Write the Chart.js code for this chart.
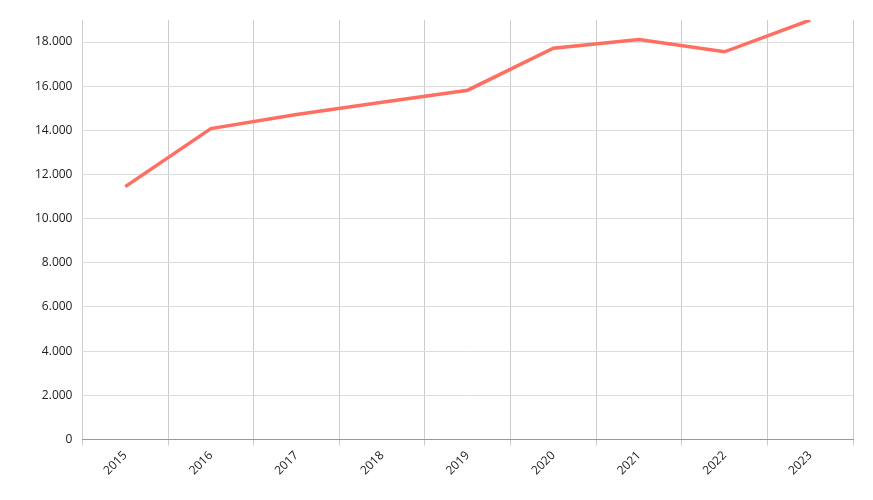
<!DOCTYPE html>
<html><head><meta charset="utf-8">
<script src="https://cdn.jsdelivr.net/npm/chart.js@4"></script>
<style>html,body{margin:0;padding:0;background:#fff}#w{width:873px;height:500px}</style>
</head><body><div id="w"><canvas id="c"></canvas></div>
<script>
const categories = ['2015','2016','2017','2018','2019','2020','2021','2022','2023'];
const values = [11450, 14080, 14720, 15270, 15820, 17720, 18120, 17560, 19000];
const yTicks = [0,2000,4000,6000,8000,10000,12000,14000,16000,18000];

new Chart(document.getElementById('c'), {
  type: 'line',
  data: { labels: categories, datasets: [{ data: values, borderColor: '#ff6f61', borderWidth: 3.5, pointRadius: 0, tension: 0, fill: false }] },
  options: {
    responsive: true, maintainAspectRatio: false, animation: false,
    layout: { padding: { top: 20, right: 20, left: 25, bottom: 19 } },
    plugins: { legend: { display: false }, tooltip: { enabled: false } },
    scales: {
      x: { offset: true, grid: { offset: true, color: '#cccccc', drawTicks: true, tickLength: 6 }, border: { color: '#999' },
           ticks: { color: '#222', font: { family: 'Open Sans', size: 12 }, maxRotation: 45, minRotation: 45 } },
      y: { min: 0, max: 19000,
           afterBuildTicks: s => { s.ticks = yTicks.map(v => ({ value: v })); },
           grid: { color: '#dddddd', drawTicks: false }, border: { display: false },
           ticks: { color: '#222', padding: 10, font: { family: 'Open Sans', size: 12 },
                    callback: v => v === 0 ? '0' : v.toLocaleString('de-DE') } }
    }
  }
});
</script></body></html>
